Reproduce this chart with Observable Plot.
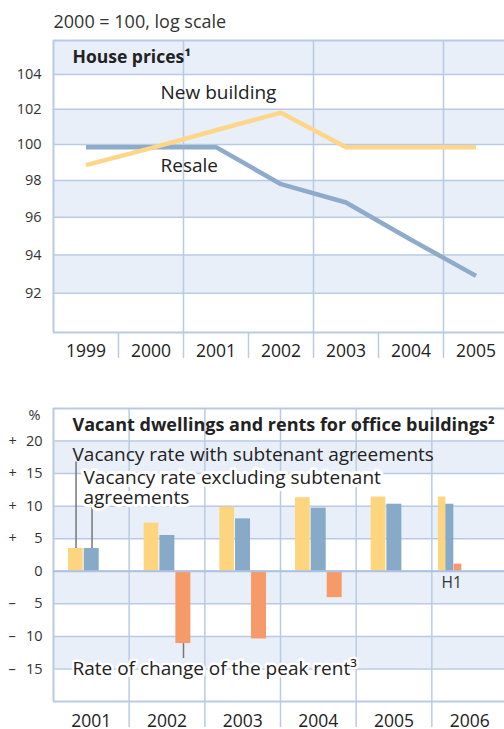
<!DOCTYPE html>
<html><head><meta charset="utf-8">
<script src="https://cdn.jsdelivr.net/npm/d3@7"></script>
<script src="https://cdn.jsdelivr.net/npm/@observablehq/plot@0.6"></script>
<style>body{margin:0;background:#fff;} svg{display:block;}</style>
</head><body><div id="c"></div>
<script>
// ---- House prices (2000 = 100, log scale) ----
const years = [1999, 2000, 2001, 2002, 2003, 2004, 2005];
const newBuilding = [98.85, 99.8, 100.8, 101.8, 99.85, 99.85, 99.85];
const resale = [99.85, 99.85, 99.85, 97.8, 96.8, 94.8, 92.9];
const houseTicks = [92, 94, 96, 98, 100, 102, 104];
const houseDomain = [90, 106];

// ---- Vacant dwellings and rents for office buildings (%) ----
const vacYears = [2001, 2002, 2003, 2004, 2005, 2006];
const vacWithSub = [3.5, 7.4, 9.85, 11.3, 11.4, 11.4];
const vacExclSub = [3.5, 5.5, 8.05, 9.7, 10.3, 10.3];
const peakRent = [null, -11.1, -10.4, -4.05, null, 1.1];
const halfYears = [2006];
const vacTicks = [-15, -10, -5, 0, 5, 10, 15, 20];
const vacDomain = [-20, 25];

const GRID = "#b9cbe4", SHADE = "#e9eff8", TEXT = "#222", TICK = "#333";
const YEL = "#fdd57f", BLU = "#88aac9", ORA = "#f79a6a";
const LYEL = "#fdd68a", LBLU = "#8eabca";
const FONT = "'Open Sans', sans-serif";
const note = (s, dx, dy, extra = {}) => Plot.text([s], {
  frameAnchor: "top-left", lineAnchor: "middle", textAnchor: "start",
  dx, dy, fill: TEXT, fontSize: 19, ...extra
});
const halo = {stroke: "white", strokeWidth: 6, paintOrder: "stroke", strokeLinejoin: "round"};

// ---------- top chart ----------
const houseRows = years.map((y, i) => ({year: y, nb: newBuilding[i], rs: resale[i]}));
const houseBands = houseTicks.filter((_, i) => i % 2 === 0).map(t => ({y1: t, y2: t + 2}));
const yearBounds = years.slice(1).map(y => y - 0.5);
const midBounds = yearBounds.filter((_, i) => i % 2 === 1);
const xDomTop = [years[0] - 0.5, years[years.length - 1] + 0.5];

const topChart = Plot.plot({
  width: 504, height: 372, marginTop: 40, marginBottom: 40, marginLeft: 53, marginRight: 0,
  style: {fontFamily: FONT, color: TEXT, background: "white", overflow: "visible"},
  x: {type: "linear", domain: xDomTop, range: [53, 508]},
  y: {type: "log", domain: houseDomain, axis: null},
  marks: [
    Plot.rectY(houseBands, {y1: "y1", y2: "y2", fill: SHADE}),
    Plot.ruleY(houseTicks, {stroke: GRID, strokeWidth: 1.5}),
    Plot.ruleX(midBounds, {stroke: GRID, strokeWidth: 1.5}),
    Plot.ruleY([houseDomain[1]], {stroke: GRID, strokeWidth: 2}),
    Plot.ruleY([houseDomain[0]], {stroke: GRID, strokeWidth: 2}),
    Plot.ruleX([xDomTop[0]], {stroke: GRID, strokeWidth: 2}),
    Plot.line(houseRows, {x: "year", y: "rs", stroke: LBLU, strokeWidth: 4.5, strokeLinecap: "butt", strokeLinejoin: "miter"}),
    Plot.line(houseRows, {x: "year", y: "nb", stroke: LYEL, strokeWidth: 4.5, strokeLinecap: "butt", strokeLinejoin: "miter"}),
    Plot.text(houseTicks, {y: d => d, text: d => String(d), frameAnchor: "left", dx: -12, textAnchor: "end", fontSize: 14.5, fill: TICK}),
    Plot.axisX(years, {tickSize: 0, tickPadding: 12, fontSize: 17.5, fill: TEXT, tickFormat: d => String(d), label: null}),
    Plot.axisX(yearBounds, {tickSize: 26, stroke: GRID, strokeWidth: 1.5, tickFormat: () => "", label: null}),
    note("2000 = 100, log scale", 0, -18, {fontSize: 18, fill: "#333"}),
    note("House prices¹", 19, 17, {fontSize: 17.5, fontWeight: "bold"}),
    note("New building", 107, 52),
    note("Resale", 107, 125)
  ]
});

// ---------- bottom chart ----------
const vacRows = vacYears.map((y, i) => ({year: y, withSub: vacWithSub[i], exclSub: vacExclSub[i], rent: peakRent[i]}));
const fullRows = vacRows.filter(d => !halfYears.includes(d.year));
const halfRows = vacRows.filter(d => halfYears.includes(d.year));
const vacBands = vacTicks.filter((_, i) => i % 2 === 0).map(t => ({y1: t, y2: t + 5}));
const vacBounds = vacYears.slice(1).map(y => y - 0.5);
const xDomBot = [vacYears[0] - 0.5, vacYears[vacYears.length - 1] + 0.5];
const BW = (507 - 53) / vacYears.length;

function bars(rows, key, fill, l, r) {
  return Plot.rect(rows.filter(d => d[key] != null), {
    x1: d => d.year - 0.5, x2: d => d.year + 0.5, y1: 0, y2: key,
    fill, insetLeft: l, insetRight: BW - r
  });
}

const botChart = Plot.plot({
  width: 504, height: 357, marginTop: 36, marginBottom: 28, marginLeft: 53, marginRight: 0,
  style: {fontFamily: FONT, color: TEXT, background: "white", overflow: "visible"},
  x: {type: "linear", domain: xDomBot, range: [53, 507]},
  y: {type: "linear", domain: vacDomain, axis: null},
  marks: [
    Plot.rectY(vacBands, {y1: "y1", y2: "y2", fill: SHADE}),
    Plot.ruleY(vacTicks, {stroke: GRID, strokeWidth: 1.5}),
    Plot.ruleX(vacBounds, {stroke: GRID, strokeWidth: 1.5}),
    Plot.ruleY([vacDomain[1]], {stroke: GRID, strokeWidth: 2}),
    Plot.ruleY([vacDomain[0]], {stroke: GRID, strokeWidth: 2}),
    Plot.ruleX([xDomBot[0]], {stroke: GRID, strokeWidth: 2}),
    bars(fullRows, "withSub", YEL, 15, 29.7),
    bars(fullRows, "exclSub", BLU, 30.7, 45.7),
    bars(fullRows, "rent", ORA, 46.7, 61.7),
    bars(halfRows, "withSub", YEL, 6.6, 14),
    bars(halfRows, "exclSub", BLU, 14, 22),
    bars(halfRows, "rent", ORA, 22.3, 30),
    Plot.ruleY([0], {stroke: "#aec2df", strokeWidth: 2}),
    // leader lines
    Plot.ruleX([vacRows[0]], {x: "year", y1: "withSub", y2: 16.8, dx: -15.3, stroke: "#777", strokeWidth: 1.5}),
    Plot.ruleX([vacRows[0]], {x: "year", y1: "exclSub", y2: 10.3, dx: 0.7, stroke: "#777", strokeWidth: 1.5}),
    Plot.ruleX([vacRows[1]], {x: "year", y1: "rent", y2: -13.4, dx: 16.5, stroke: "#777", strokeWidth: 1.5}),
    // axes
    Plot.text(vacTicks, {y: d => d, text: d => String(Math.abs(d)), frameAnchor: "left", dx: -11, textAnchor: "end", fontSize: 14.5, fill: TICK}),
    Plot.text(vacTicks.filter(d => d !== 0), {y: d => d, text: d => d > 0 ? "+" : "–", frameAnchor: "left", dx: -45, textAnchor: "start", fontSize: 14.5, fill: TICK}),
    Plot.text(["%"], {frameAnchor: "top-left", lineAnchor: "middle", dx: -13, dy: 7, textAnchor: "end", fontSize: 14.5, fill: TICK}),
    Plot.axisX(vacYears, {tickSize: 0, tickPadding: 13, fontSize: 17.5, fill: TEXT, tickFormat: d => String(d), label: null}),
    Plot.axisX(vacBounds, {tickSize: 26, stroke: GRID, strokeWidth: 1.5, tickFormat: () => "", label: null}),
    // annotations
    note("Vacant dwellings and rents for office buildings²", 19, 17, {fontSize: 18, fontWeight: "bold"}),
    note("Vacancy rate with subtenant agreements", 19, 46),
    note("Vacancy rate excluding subtenant", 30, 69, halo),
    note("agreements", 30, 89, halo),
    note("Rate of change of the peak rent³", 19, 260, {...halo, strokeWidth: 5}),
    note("H1", 388, 175, {fontSize: 15.5, fill: TICK})
  ]
});

const c = document.getElementById("c");
c.appendChild(topChart);
c.appendChild(botChart);
</script>
</body></html>
